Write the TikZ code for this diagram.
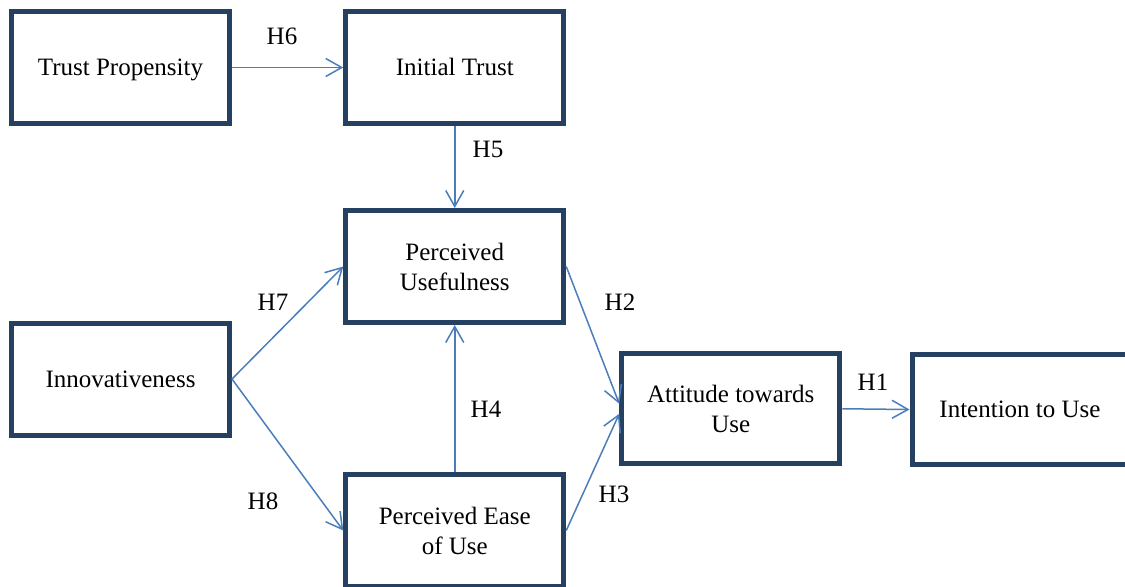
\documentclass[tikz,border=0pt]{standalone}
\usepackage{fontspec}
\setmainfont{Liberation Serif}
\usetikzlibrary{arrows.meta}
\definecolor{boxnavy}{RGB}{37,64,97}
\definecolor{arrowblue}{RGB}{74,126,187}

\begin{document}
\begin{tikzpicture}[x=0.5pt,y=-0.5pt,
  construct/.style={draw=boxnavy,line width=2.5pt,minimum width=109pt,minimum height=56pt,align=center,font=\fontsize{12.5}{15}\selectfont},
  oneline/.style={text height=8.3pt,text depth=0pt},
  hyp/.style={font=\fontsize{12.5}{15}\selectfont},
  link/.style={draw=arrowblue,line width=0.75pt,-{Straight Barb[length=8pt,width=9pt]}}]
\clip (0,0) rectangle (1125,586);
% constructs
\node[construct,oneline] (tp) at (120.5,67.5) {Trust Propensity};
\node[construct,oneline] (it) at (454.75,67.5) {Initial Trust};
\node[construct] (pu) at (454.75,266.5) {Perceived\\Usefulness};
\node[construct,oneline] (inn) at (120.5,379) {Innovativeness};
\node[construct] (peou) at (454.75,530.5) {Perceived Ease\\of Use};
\node[construct,minimum height=55pt] (att) at (730.75,408.75) {Attitude towards\\Use};
\node[construct,oneline,minimum height=55pt,minimum width=108pt] (itu) at (1020,409.5) {Intention to Use};
% hypotheses
\node[hyp] (h1) at (873,382) {H1};
\node[hyp] (h2) at (620,302) {H2};
\node[hyp] (h3) at (614,494) {H3};
\node[hyp] (h4) at (486,409) {H4};
\node[hyp] (h5) at (488,149) {H5};
\node[hyp] (h6) at (282,36) {H6};
\node[hyp] (h7) at (273,302) {H7};
\node[hyp] (h8) at (263,501) {H8};
% paths
\draw[link] (tp.east) -- (it.west);
\draw[link] (it.south) -- (pu.north);
\draw[link] (inn.east) -- (pu.west);
\draw[link] (inn.east) -- (peou.west);
\draw[link] (peou.north) -- (pu.south);
\draw[link] (pu.east) -- ([yshift=2.5pt]att.west);
\draw[link] (peou.east) -- ([yshift=-2.5pt]att.west);
\draw[link] (att.east) -- (itu.west);
\end{tikzpicture}
\end{document}
